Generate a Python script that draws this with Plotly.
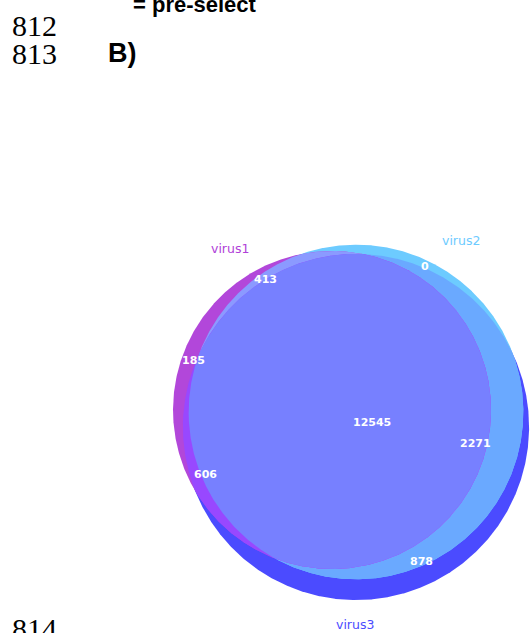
import numpy as np
import plotly.graph_objects as go

# ---- data -------------------------------------------------------------
set_names = ["virus1", "virus2", "virus3"]
# region membership keys (virus1, virus2, virus3) and their counts
region_keys = ["100", "010", "110", "001", "101", "011", "111"]
region_counts = [185, 0, 413, 878, 606, 2271, 12545]

# ---- layout / style ---------------------------------------------------
W, H = 531, 633
PX_PER_SQRT = 1.356                     # circle radius per sqrt(set size)
centers = [(332.0, 410.0), (356.0, 412.0), (356.0, 427.0)]

region_colors = {
    "100": "#B247DA",
    "010": "#6DCBFF",
    "001": "#4B4BFF",
    "110": "#8B9AFF",
    "101": "#9848FF",
    "011": "#6AA9FF",
    "111": "#7780FF",
}
set_label_colors = ["#B040D8", "#6DCBFF", "#4B4BFF"]

region_label_pos = {
    "100": (193, 360),
    "010": (425, 266),
    "110": (265, 279),
    "001": (421, 561),
    "101": (205, 474),
    "011": (475, 443),
    "111": (372, 422),
}
set_label_pos = [(230, 248), (461, 240), (355, 624)]

# ---- geometry ---------------------------------------------------------
set_sizes = [sum(c for k, c in zip(region_keys, region_counts) if k[i] == "1")
             for i in range(3)]
radii = [PX_PER_SQRT * np.sqrt(s) for s in set_sizes]


def circle_pts(i, n=1440):
    t = np.linspace(0, 2 * np.pi, n, endpoint=False)
    cx, cy = centers[i]
    return cx + radii[i] * np.cos(t), cy + radii[i] * np.sin(t)


def intersection(idx):
    """Convex polygon of the intersection of the given circles."""
    xs, ys = [], []
    for i in idx:
        x, y = circle_pts(i)
        keep = np.ones_like(x, dtype=bool)
        for j in idx:
            if j == i:
                continue
            cx, cy = centers[j]
            keep &= (x - cx) ** 2 + (y - cy) ** 2 <= radii[j] ** 2 + 1e-6
        xs.append(x[keep])
        ys.append(y[keep])
    x = np.concatenate(xs)
    y = np.concatenate(ys)
    mx, my = x.mean(), y.mean()
    order = np.argsort(np.arctan2(y - my, x - mx))
    x, y = x[order], y[order]
    return np.append(x, x[0]), np.append(y, y[0])


fig = go.Figure()


def paint(idx, key):
    x, y = intersection(idx)
    fig.add_trace(go.Scatter(
        x=x, y=y, mode="lines", fill="toself",
        fillcolor=region_colors[key], line=dict(width=0, color=region_colors[key]),
        hoverinfo="skip", showlegend=False))


# painter's order: each later patch overwrites the overlap it belongs to
paint([2], "001")
paint([1], "010")
paint([1, 2], "011")
paint([0], "100")
paint([0, 1], "110")
paint([0, 2], "101")
paint([0, 1, 2], "111")

annotations = []
for key, cnt in zip(region_keys, region_counts):
    px, py = region_label_pos[key]
    annotations.append(dict(
        x=px, y=py, text=str(cnt), showarrow=False, xanchor="center", yanchor="middle",
        font=dict(family="DejaVu Sans", size=11, color="white", weight="bold")))

for name, (px, py), col in zip(set_names, set_label_pos, set_label_colors):
    annotations.append(dict(
        x=px, y=py, text=name, showarrow=False, xanchor="center", yanchor="middle",
        font=dict(family="DejaVu Sans", size=12.5, color=col)))

# surrounding page text
serif = dict(family="Liberation Serif", size=30, color="black")
for txt, py in [("812", 25), ("813", 53), ("814", 628)]:
    annotations.append(dict(x=10, y=py, text=txt, showarrow=False,
                            xanchor="left", yanchor="middle", font=serif))
annotations.append(dict(x=106, y=53, text="B)", showarrow=False,
                        xanchor="left", yanchor="middle",
                        font=dict(family="Liberation Sans", size=27,
                                  color="black", weight="bold")))
annotations.append(dict(x=131, y=4, text="= pre-select", showarrow=False,
                        xanchor="left", yanchor="middle",
                        font=dict(family="Liberation Sans", size=22,
                                  color="black", weight="bold")))

fig.update_layout(
    width=W, height=H,
    margin=dict(l=0, r=0, t=0, b=0),
    paper_bgcolor="white", plot_bgcolor="white",
    xaxis=dict(range=[0, W], visible=False, fixedrange=True),
    yaxis=dict(range=[H, 0], visible=False, fixedrange=True),
    annotations=annotations,
    showlegend=False,
)

fig.write_html("out.html")
